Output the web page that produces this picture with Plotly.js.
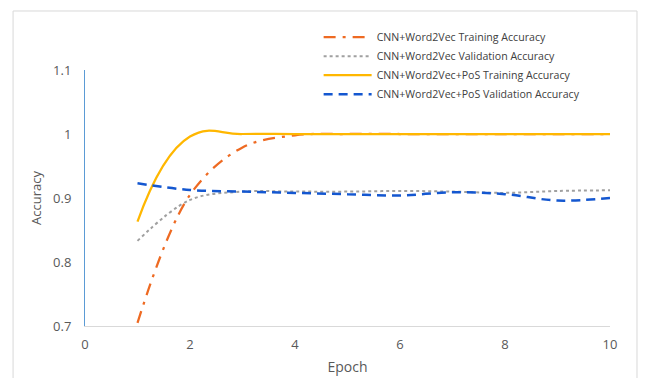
<!DOCTYPE html>
<html>
<head>
<meta charset="utf-8">
<script src="https://cdn.plot.ly/plotly-3.0.1.min.js"></script>
<style>html,body{margin:0;padding:0;background:#fff;}#chart{width:646px;height:378px;}</style>
</head>
<body>
<div id="chart"></div>
<script>
const epochs = [1, 2, 3, 4, 5, 6, 7, 8, 9, 10];
const w2vTrain = [0.705, 0.905, 0.979, 0.998, 1.0, 1.0, 1.0, 1.0, 1.0, 1.0];
const w2vVal = [0.833, 0.897, 0.910, 0.910, 0.910, 0.911, 0.910, 0.908, 0.911, 0.912];
const posTrain = [0.863, 0.996, 1.0, 1.0, 1.0, 1.0, 1.0, 1.0, 1.0, 1.0];
const posVal = [0.923, 0.9125, 0.910, 0.908, 0.906, 0.904, 0.909, 0.906, 0.896, 0.900];
const seriesNames = [
  'CNN+Word2Vec Training Accuracy',
  'CNN+Word2Vec Validation Accuracy',
  'CNN+Word2Vec+PoS Training Accuracy',
  'CNN+Word2Vec+PoS Validation Accuracy'
];
const xTicks = [0, 2, 4, 6, 8, 10];
const yTicks = [0.7, 0.8, 0.9, 1, 1.1];

const font = 'Open Sans, Noto Sans, sans-serif';
const traces = [
  {x: epochs, y: w2vTrain, name: seriesNames[0], mode: 'lines',
   line: {color: '#EE6A22', width: 2.25, dash: '12px,7px,3px,7px', shape: 'spline', smoothing: 1}},
  {x: epochs, y: w2vVal, name: seriesNames[1], mode: 'lines',
   line: {color: '#A0A0A0', width: 2, dash: 'dot', shape: 'spline', smoothing: 1}},
  {x: epochs, y: posTrain, name: seriesNames[2], mode: 'lines',
   line: {color: '#FFB700', width: 2.25, shape: 'spline', smoothing: 1.3}},
  {x: epochs, y: posVal, name: seriesNames[3], mode: 'lines',
   line: {color: '#1457D0', width: 2.5, dash: '9px,6px', shape: 'spline', smoothing: 1}}
];

const layout = {
  width: 646, height: 378,
  margin: {l: 85, r: 36, t: 70, b: 52},
  paper_bgcolor: '#ffffff', plot_bgcolor: '#ffffff',
  font: {family: font, color: '#595959', size: 13},
  showlegend: true,
  legend: {x: 0.445, y: 1.185, xanchor: 'left', yanchor: 'top', itemwidth: 48,
           font: {family: font, size: 10.6, color: '#404040'}, bgcolor: 'rgba(0,0,0,0)', tracegroupgap: 0},
  xaxis: {range: [0, 10], tickvals: xTicks, showgrid: false, zeroline: false,
          showline: true, linecolor: '#D9D9D9', linewidth: 1,
          ticks: 'outside', ticklen: 6, tickcolor: 'rgba(0,0,0,0)',
          tickfont: {family: font, size: 13, color: '#595959'},
          title: {text: 'Epoch', font: {family: font, size: 14, color: '#595959'}, standoff: 10}},
  yaxis: {range: [0.7, 1.1], tickvals: yTicks, showgrid: false, zeroline: false,
          showline: true, linecolor: '#5B9BD5', linewidth: 1,
          ticks: 'outside', ticklen: 10, tickcolor: 'rgba(0,0,0,0)',
          tickfont: {family: font, size: 13, color: '#595959'},
          title: {text: 'Accuracy', font: {family: font, size: 13, color: '#595959'}, standoff: 8}},
  shapes: [
    {type: 'rect', xref: 'paper', yref: 'paper', x0: -0.137, x1: 1.0514, y0: -0.3, y1: 1.2305,
     line: {color: '#D9D9D9', width: 1}, fillcolor: 'rgba(0,0,0,0)', layer: 'below'}
  ]
};

Plotly.newPlot('chart', traces, layout, {displayModeBar: false, staticPlot: true});
</script>
</body>
</html>
